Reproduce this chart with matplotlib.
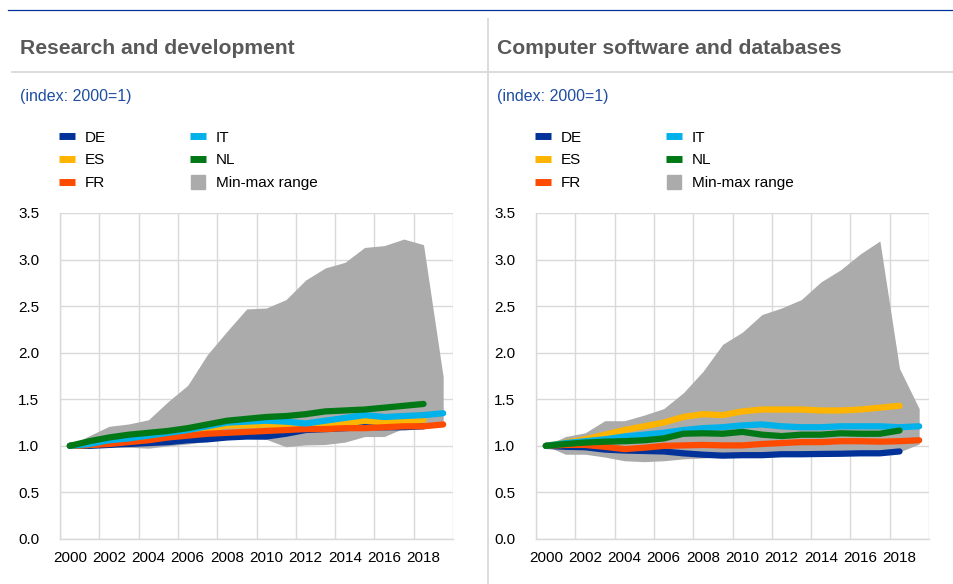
import matplotlib
matplotlib.use("Agg")
import matplotlib.pyplot as plt
from matplotlib.lines import Line2D

plt.rcParams['font.family'] = ['Liberation Sans', 'DejaVu Sans']

years = list(range(2000, 2020))
tick_years = list(range(2000, 2019, 2))
yticks = [0.0, 0.5, 1.0, 1.5, 2.0, 2.5, 3.0, 3.5]

# Research and development
rd_min = [1.00, 1.00, 1.00, 0.985, 0.975, 1.00, 1.02, 1.05, 1.07, 1.08,
          1.07, 0.99, 1.01, 1.015, 1.04, 1.10, 1.10, 1.19, 1.21, 1.23]
rd_max = [1.00, 1.11, 1.21, 1.235, 1.28, 1.475, 1.65, 1.98, 2.23, 2.47,
          2.48, 2.57, 2.78, 2.91, 2.97, 3.13, 3.15, 3.22, 3.16, 1.74]
rd_de = [1.00, 1.00, 1.01, 1.02, 1.03, 1.04, 1.06, 1.07, 1.09, 1.10,
         1.10, 1.13, 1.17, 1.18, 1.19, 1.20, 1.20, 1.20, 1.21]
rd_es = [1.00, 1.01, 1.03, 1.05, 1.08, 1.11, 1.14, 1.18, 1.22, 1.22,
         1.23, 1.22, 1.21, 1.22, 1.24, 1.27, 1.25, 1.26, 1.28]
rd_fr = [1.00, 1.01, 1.02, 1.04, 1.06, 1.09, 1.11, 1.13, 1.14, 1.15,
         1.16, 1.17, 1.18, 1.18, 1.19, 1.19, 1.20, 1.21, 1.21, 1.23]
rd_it = [1.00, 1.02, 1.06, 1.08, 1.11, 1.14, 1.17, 1.21, 1.25, 1.26,
         1.27, 1.26, 1.24, 1.27, 1.30, 1.33, 1.31, 1.32, 1.33, 1.35]
rd_nl = [1.00, 1.05, 1.09, 1.12, 1.14, 1.16, 1.19, 1.23, 1.27, 1.29,
         1.31, 1.32, 1.34, 1.37, 1.38, 1.39, 1.41, 1.43, 1.45]

# Computer software and databases
sw_min = [1.00, 0.91, 0.91, 0.88, 0.84, 0.83, 0.84, 0.86, 0.87, 0.885,
          0.89, 0.895, 0.905, 0.905, 0.91, 0.91, 0.915, 0.915, 0.935, 1.02]
sw_max = [1.00, 1.10, 1.14, 1.27, 1.27, 1.33, 1.40, 1.57, 1.80, 2.09,
          2.22, 2.41, 2.48, 2.57, 2.76, 2.89, 3.06, 3.20, 1.83, 1.40]
sw_de = [1.00, 0.99, 0.985, 0.96, 0.95, 0.945, 0.94, 0.92, 0.905, 0.895,
         0.90, 0.90, 0.91, 0.91, 0.913, 0.915, 0.92, 0.92, 0.94]
sw_es = [1.00, 1.035, 1.07, 1.12, 1.17, 1.21, 1.25, 1.31, 1.34, 1.33,
         1.37, 1.39, 1.39, 1.39, 1.38, 1.38, 1.39, 1.41, 1.43]
sw_fr = [1.00, 1.01, 1.01, 0.99, 0.965, 0.98, 1.00, 1.005, 1.01, 1.005,
         1.005, 1.02, 1.03, 1.04, 1.04, 1.05, 1.05, 1.045, 1.05, 1.06]
sw_it = [1.00, 1.03, 1.05, 1.07, 1.10, 1.12, 1.14, 1.17, 1.19, 1.20,
         1.22, 1.23, 1.21, 1.20, 1.20, 1.21, 1.21, 1.21, 1.20, 1.21]
sw_nl = [1.00, 1.02, 1.035, 1.045, 1.05, 1.06, 1.08, 1.13, 1.135, 1.13,
         1.15, 1.12, 1.105, 1.12, 1.12, 1.135, 1.13, 1.13, 1.165]

countries = ["DE", "ES", "FR", "IT", "NL"]
colors = {"DE": "#003299", "ES": "#ffb400", "FR": "#ff4b00",
          "IT": "#00b1ea", "NL": "#007816"}
range_color = "#ababab"
grid_color = "#d9d9d9"

panels = [
    ("Research and development", rd_min, rd_max,
     {"DE": rd_de, "ES": rd_es, "FR": rd_fr, "IT": rd_it, "NL": rd_nl}),
    ("Computer software and databases", sw_min, sw_max,
     {"DE": sw_de, "ES": sw_es, "FR": sw_fr, "IT": sw_it, "NL": sw_nl}),
]

W, H = 954, 584
fig = plt.figure(figsize=(W / 100, H / 100), dpi=100)

def fx(px):
    return px / W

def fy(py):
    return 1 - py / H

# decorative frame lines
fig.add_artist(Line2D([fx(8), fx(954)], [fy(10), fy(10)], color="#003299", lw=0.9))
fig.add_artist(Line2D([fx(12), fx(954)], [fy(72), fy(72)], color=grid_color, lw=1.3))
fig.add_artist(Line2D([fx(487.5), fx(487.5)], [fy(19), fy(584)], color=grid_color, lw=1.3))

axes_x = [60, 536]
text_x = [20, 497]
for k, (title, lo, hi, series) in enumerate(panels):
    x0 = axes_x[k]
    ax = fig.add_axes([fx(x0), fy(539), fx(393), (539 - 213) / H])
    ax.fill_between(years, lo, hi, color=range_color, lw=0, zorder=2)
    for c in countries:
        vals = series[c]
        ax.plot(years[:len(vals)], vals, color=colors[c], lw=4.5,
                solid_capstyle="round", solid_joinstyle="round", zorder=3)
    ax.set_xlim(1999.5, 2019.5)
    ax.set_ylim(0, 3.5)
    ax.set_yticks(yticks)
    ax.set_yticklabels([f"{v:.1f}" for v in yticks])
    ax.set_xticks(tick_years)
    ax.set_xticklabels([str(y) for y in tick_years])
    ax.set_xticks([y - 0.5 for y in range(2000, 2021, 2)], minor=True)
    ax.tick_params(which="both", length=0)
    ax.tick_params(axis="x", pad=9, labelsize=11)
    ax.tick_params(axis="y", pad=15, labelsize=11)
    ax.grid(True, which="minor", axis="x", color=grid_color, lw=1.0)
    ax.grid(True, which="major", axis="y", color=grid_color, lw=1.0)
    ax.grid(False, which="major", axis="x")
    ax.set_axisbelow(True)
    for s in ["top", "right"]:
        ax.spines[s].set_visible(False)
    for s in ["left", "bottom"]:
        ax.spines[s].set_color(grid_color)
        ax.spines[s].set_linewidth(1.0)

    fig.text(fx(text_x[k]), fy(54), title, fontsize=15.2, fontweight="bold",
             color="#595959", ha="left", va="baseline")
    fig.text(fx(text_x[k]), fy(101.5), "(index: 2000=1)", fontsize=11.5,
             color="#1f4ea3", ha="left", va="baseline")

    hnd = [Line2D([], [], color=colors[c], lw=5, solid_capstyle="butt") for c in countries]
    hnd.append(Line2D([], [], marker="s", color=range_color, markersize=9.4, linestyle="none"))
    labels = countries + ["Min-max range"]
    fig.legend(hnd, labels, loc="upper left",
               bbox_to_anchor=(fx(x0 - 1), fy(130.5)), bbox_transform=fig.transFigure,
               ncol=2, frameon=False, fontsize=11, borderpad=0, borderaxespad=0,
               handlelength=1.05, handletextpad=0.65, columnspacing=5.5,
               labelspacing=0.57, numpoints=1)

fig.savefig("out.png", dpi=100)
